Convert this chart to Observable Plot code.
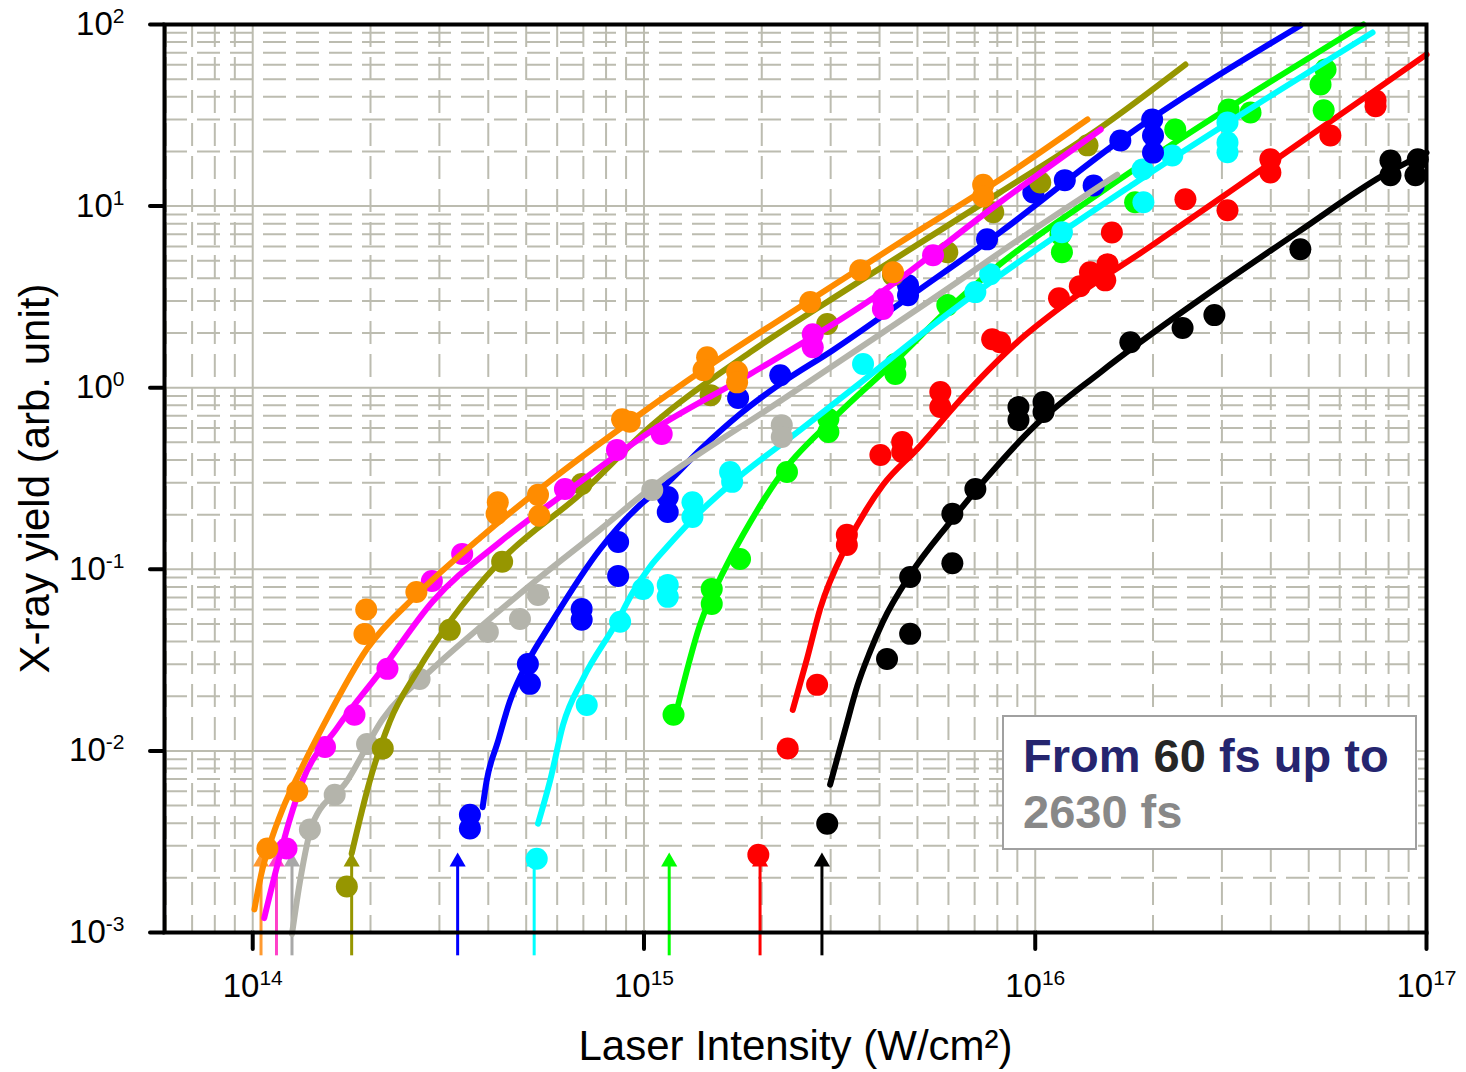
<!DOCTYPE html>
<html>
<head>
<meta charset="utf-8">
<script src="https://cdn.jsdelivr.net/npm/d3@7"></script>
<script src="https://cdn.jsdelivr.net/npm/@observablehq/plot@0.6"></script>
<style>
  body { margin: 0; background: #fff; }
  #wrap { position: relative; width: 1466px; height: 1072px; }
  #wrap svg { position: absolute; left: 0; top: 0; }
  #legend {
    position: absolute; left: 1002px; top: 715px; width: 415px; height: 135px;
    box-sizing: border-box; border: 2px solid #a0a0a0; background: #fff;
    font: bold 47px "Liberation Sans", Arial, sans-serif; line-height: 56px;
    padding: 11px 0 0 19px; white-space: nowrap; z-index: 2;
  }
  .navy { color: #25256f; }
  .dark { color: #262626; }
  .grey { color: #888888; }
</style>
</head>
<body>
<div id="wrap"></div>
<script>
// ---------- axes ----------
const xDomain = [5.95e13, 1e17];
const yDomain = [1e-3, 1e2];
const xTicks = [1e14, 1e15, 1e16, 1e17];
const yTicks = [1e-3, 1e-2, 1e-1, 1e0, 1e1, 1e2];
const xLabel = "Laser Intensity (W/cm²)";
const yLabel = "X-ray yield (arb. unit)";

// ---------- data: [intensity W/cm², yield] ----------
const blackPoints = [[2.94e15,0.00397],[4.18e15,0.0321],[4.79e15,0.0441],[4.79e15,0.0908],[6.14e15,0.108],[6.14e15,0.202],[7.03e15,0.277],[9.06e15,0.782],[9.06e15,0.663],[1.05e16,0.833],[1.05e16,0.734],[1.75e16,1.78],[2.38e16,2.13],[2.87e16,2.51],[4.76e16,5.78],[8.09e16,17.8],[8.09e16,14.8],[9.37e16,14.8],[9.5e16,18.1]];
const blackFit = [[2.99e15,0.00652],[3.27e15,0.0132],[3.51e15,0.0228],[3.78e15,0.0351],[4.08e15,0.0514],[4.79e15,0.0932],[6.06e15,0.182],[7.36e15,0.303],[9.89e15,0.607],[1.47e16,1.22],[2.64e16,3.07],[4.76e16,7.34],[7.76e16,14.8],[1e17,19.7]];

const redPoints = [[1.96e15,0.00268],[2.33e15,0.0103],[2.77e15,0.0231],[3.30e15,0.155],[3.30e15,0.136],[4.02e15,0.426],[4.57e15,0.502],[4.57e15,0.443],[5.72e15,0.946],[5.72e15,0.782],[7.76e15,1.85],[8.13e15,1.78],[1.15e16,3.11],[1.30e16,3.62],[1.38e16,4.32],[1.51e16,3.90],[1.53e16,4.79],[1.57e16,7.16],[2.42e16,10.9],[3.10e16,9.48],[3.99e16,18.1],[3.99e16,15.3],[5.68e16,24.5],[7.41e16,38.2],[7.41e16,35.5]];
const redFit = [[2.40e15,0.0168],[2.61e15,0.0321],[2.82e15,0.0605],[3.30e15,0.136],[4.08e15,0.291],[4.99e15,0.459],[6.70e15,0.944],[8.99e15,1.78],[1.21e16,2.96],[1.97e16,6.0],[3.21e16,12.4],[1e17,68.4]];

const greenPoints = [[1.19e15,0.0158],[1.49e15,0.078],[1.49e15,0.0645],[1.76e15,0.114],[2.32e15,0.343],[2.96e15,0.672],[2.96e15,0.570],[4.39e15,1.35],[4.39e15,1.19],[5.96e15,2.85],[1.16e16,6.98],[1.17e16,5.57],[1.80e16,10.5],[2.28e16,26.4],[3.12e16,34.0],[3.55e16,32.8],[5.36e16,46.7],[5.52e16,56.5],[5.46e16,33.7]];
const greenFit = [[1.21e15,0.0164],[1.39e15,0.0494],[1.63e15,0.106],[1.87e15,0.182],[2.23e15,0.330],[3.04e15,0.672],[4.52e15,1.49],[6.06e15,2.77],[8.13e15,4.79],[1.47e16,11.9],[6.90e16,100]];

const cyanPoints = [[5.32e14,0.00255],[7.14e14,0.0179],[8.69e14,0.0514],[9.94e14,0.078],[1.15e15,0.082],[1.15e15,0.0705],[1.33e15,0.234],[1.33e15,0.194],[1.66e15,0.343],[1.68e15,0.303],[3.63e15,1.35],[7.03e15,3.36],[7.67e15,4.22],[1.17e16,7.17],[1.88e16,15.9],[1.89e16,10.5],[2.24e16,19.0],[3.10e16,28.9],[3.10e16,22.4],[3.10e16,19.8]];
const cyanFit = [[5.36e14,0.00398],[5.75e14,0.0068],[6.21e14,0.0139],[6.98e14,0.0249],[8.53e14,0.0514],[9.38e14,0.0751],[1.035e15,0.103],[1.146e15,0.133],[1.39e15,0.207],[1.69e15,0.303],[2.51e15,0.585],[3.72e15,1.14],[5.48e15,2.21],[8.13e15,4.16],[1.78e16,13.2],[7.28e16,90.4]];

const bluePoints = [[3.59e14,0.00445],[3.59e14,0.00374],[5.05e14,0.0301],[5.11e14,0.0234],[6.93e14,0.0605],[6.93e14,0.0527],[8.59e14,0.1415],[8.59e14,0.092],[1.15e15,0.25],[1.15e15,0.207],[1.74e15,0.877],[2.23e15,1.17],[4.73e15,3.67],[4.73e15,3.23],[7.53e15,6.56],[9.89e15,11.9],[1.19e16,13.9],[1.41e16,13.0],[1.65e16,23.0],[1.99e16,30.0],[2.0e16,24.5],[2.0e16,19.7]];
const blueFit = [[3.87e14,0.0049],[3.96e14,0.0068],[4.23e14,0.0112],[4.54e14,0.0187],[5.05e14,0.031],[5.75e14,0.0494],[7.72e14,0.129],[9.77e14,0.226],[1.15e15,0.30],[1.39e15,0.454],[1.76e15,0.716],[2.23e15,1.05],[3.04e15,1.61],[5.08e15,3.49],[8.13e15,7.17],[1.62e16,22.4],[4.76e16,98.8]];

const grayPoints = [[1.40e14,0.00369],[1.62e14,0.00574],[1.96e14,0.0109],[2.67e14,0.0249],[3.99e14,0.0452],[4.82e14,0.0533],[5.36e14,0.0723],[1.05e15,0.273],[2.25e15,0.622],[2.25e15,0.535]];
const grayFit = [[1.26e14,0.00098],[1.32e14,0.0019],[1.42e14,0.00393],[1.74e14,0.0068],[2.15e14,0.0150],[2.88e14,0.0283],[3.87e14,0.0494],[5.36e14,0.0886],[7.71e14,0.165],[1.035e15,0.277],[2.25e15,0.855],[6.31e15,3.81],[8.13e15,5.56],[1.62e16,14.9]];

const olivePoints = [[1.74e14,0.00179],[2.15e14,0.0103],[3.19e14,0.0464],[4.34e14,0.110],[6.93e14,0.295],[1.48e15,0.91],[2.94e15,2.24],[4.33e15,4.16],[5.96e15,5.57],[7.81e15,9.25],[1.03e16,13.5],[1.36e16,21.6]];
const oliveFit = [[1.79e14,0.00272],[1.99e14,0.0068],[2.24e14,0.0145],[2.63e14,0.0273],[3.19e14,0.0514],[4.28e14,0.110],[6.98e14,0.267],[1.035e15,0.607],[1.87e15,1.57],[3.37e15,3.58],[8.13e15,11.9],[1.47e16,27.1],[2.42e16,60.2]];

const magentaPoints = [[1.22e14,0.0029],[1.53e14,0.0105],[1.82e14,0.0158],[2.21e14,0.0283],[2.87e14,0.0863],[3.43e14,0.1216],[6.28e14,0.277],[8.53e14,0.454],[1.11e15,0.556],[2.70e15,1.97],[2.70e15,1.67],[4.08e15,3.07],[4.08e15,2.71],[5.48e15,5.36]];
const magentaFit = [[1.07e14,0.0012],[1.15e14,0.00225],[1.24e14,0.0041],[1.34e14,0.0068],[1.64e14,0.0133],[2.15e14,0.0284],[2.88e14,0.0662],[4.29e14,0.1416],[6.35e14,0.267],[1.035e15,0.570],[1.87e15,1.19],[3.78e15,3.03],[8.13e15,10.5],[1.47e16,26.4]];

const orangePoints = [[1.09e14,0.0029],[1.30e14,0.006],[1.95e14,0.060],[1.93e14,0.044],[2.62e14,0.075],[4.23e14,0.234],[4.2e14,0.202],[5.36e14,0.257],[5.4e14,0.197],[8.79e14,0.67],[9.2e14,0.65],[1.45e15,1.47],[1.42e15,1.25],[1.73e15,1.22],[1.73e15,1.07],[2.66e15,2.96],[3.57e15,4.43],[4.33e15,4.32],[7.36e15,13.1],[7.36e15,11.3]];
const orangeFit = [[1.01e14,0.00134],[1.055e14,0.00216],[1.105e14,0.00305],[1.19e14,0.00474],[1.32e14,0.00768],[1.51e14,0.0136],[1.96e14,0.0365],[2.62e14,0.072],[3.87e14,0.153],[5.75e14,0.306],[9.38e14,0.67],[1.39e15,1.22],[2.66e15,3.03],[4.52e15,6.32],[8.13e15,14.0],[1.36e16,30.0]];

// onset intensities marked by arrows
const seriesKeys   = ["black", "red", "green", "cyan", "blue", "gray", "olive", "magenta", "orange"];
const seriesColors = ["#000000", "#ff0000", "#00ff00", "#00ffff", "#0000ff", "#b4b4ab", "#969600", "#ff00ff", "#ff8c00"];
const arrowColors  = ["#000000", "#ff0000", "#00ff00", "#00ffff", "#0000ff", "#a8a8a8", "#969600", "#ff40c8", "#ff9a30"];
const thresholds   = [2.85e15, 1.98e15, 1.16e15, 5.24e14, 3.34e14, 1.26e14, 1.79e14, 1.15e14, 1.05e14];
const pointSets = [blackPoints, redPoints, greenPoints, cyanPoints, bluePoints, grayPoints, olivePoints, magentaPoints, orangePoints];
const fitSets   = [blackFit, redFit, greenFit, cyanFit, blueFit, grayFit, oliveFit, magentaFit, orangeFit];

// arrow extent (yield units, below the axis up to the head)
const arrowBase = 7.44e-4;
const arrowHead = 2.45e-3;

// ---------- grid values ----------
const decadesX = d3.range(13, 17);
const decadesY = d3.range(-3, 2);
const xMinor = decadesX.flatMap(e => d3.range(2, 10).map(m => m * Math.pow(10, e))).filter(v => v > xDomain[0] && v < xDomain[1]);
const yMinor = decadesY.flatMap(e => d3.range(2, 10).map(m => m * Math.pow(10, e))).filter(v => v > yDomain[0] && v < yDomain[1]);
const gridColor = "#bcbcb0";

const arrows = seriesKeys.map((k, i) => ({key: k, x: thresholds[i], color: arrowColors[i]}));

const marks = [
  Plot.ruleX(xMinor, {stroke: gridColor, strokeWidth: 2, strokeDasharray: "23,10"}),
  Plot.ruleY(yMinor, {stroke: gridColor, strokeWidth: 2, strokeDasharray: "23,10"}),
  Plot.ruleX(xTicks, {stroke: gridColor, strokeWidth: 2}),
  Plot.ruleY(yTicks, {stroke: gridColor, strokeWidth: 2}),
];
arrows.forEach(a => {
  marks.push(Plot.ruleX([a], {x: "x", y1: () => arrowBase, y2: () => arrowHead, stroke: a.color, strokeWidth: 3}));
  marks.push(Plot.dot([a], {x: "x", y: () => arrowHead, symbol: "triangle", r: 6, fill: a.color}));
});
seriesKeys.forEach((k, i) => {
  marks.push(Plot.line(fitSets[i], {x: d => d[0], y: d => d[1], stroke: seriesColors[i], strokeWidth: 6, curve: "monotone-x"}));
  marks.push(Plot.dot(pointSets[i], {x: d => d[0], y: d => d[1], r: 11, fill: seriesColors[i]}));
});
marks.push(Plot.frame({stroke: "black", strokeWidth: 4}));
marks.push(Plot.text([xLabel], {text: d => d, frameAnchor: "bottom", textAnchor: "middle", lineAnchor: "middle", dy: 114, fontSize: 42}));
marks.push(Plot.text([yLabel], {text: d => d, frameAnchor: "left", textAnchor: "middle", lineAnchor: "middle", dx: -129, rotate: -90, fontSize: 42}));

const chart = Plot.plot({
  width: 1466,
  height: 1072,
  marginLeft: 164,
  marginRight: 40,
  marginTop: 24,
  marginBottom: 140,
  style: {fontFamily: "'Liberation Sans', Arial, sans-serif", fontSize: "33px", color: "black", background: "white", overflow: "visible"},
  x: {type: "log", domain: xDomain, ticks: xTicks, tickFormat: d => "10^" + Math.round(Math.log10(d)), tickSize: 17, tickPadding: 24, label: null},
  y: {type: "log", domain: yDomain, ticks: yTicks, tickFormat: d => "10^" + Math.round(Math.log10(d)), tickSize: 14, tickPadding: 26, label: null},
  marks
});

// superscript exponents & heavy tick strokes
const NS = "http://www.w3.org/2000/svg";
chart.querySelectorAll("text").forEach(t => {
  const m = /^10\^(-?\d+)$/.exec(t.textContent.trim());
  if (m) {
    t.textContent = "10";
    const ts = document.createElementNS(NS, "tspan");
    ts.setAttribute("dy", "-12");
    ts.setAttribute("font-size", "21px");
    ts.textContent = m[1];
    t.appendChild(ts);
  }
});
chart.querySelectorAll('g[aria-label*="axis"]').forEach(g => {
  g.querySelectorAll("line, path").forEach(el => {
    el.setAttribute("stroke-width", "4");
    el.setAttribute("stroke-linecap", "round");
    el.setAttribute("stroke", "black");
  });
});

const wrap = document.getElementById("wrap");
wrap.appendChild(chart);
const legend = document.createElement("div");
legend.id = "legend";
legend.innerHTML = '<span class="navy">From </span><span class="dark">60</span><span class="navy"> fs up to</span><br><span class="grey">2630 fs</span>';
wrap.appendChild(legend);
</script>
</body>
</html>
